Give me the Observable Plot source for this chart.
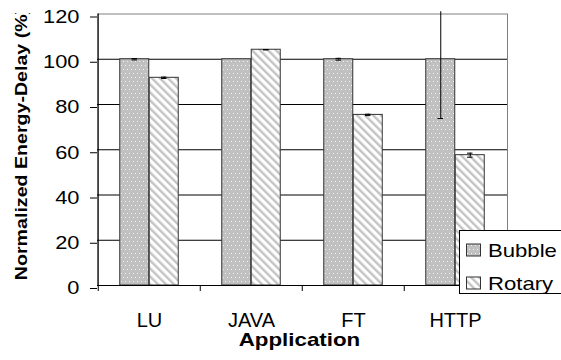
<!DOCTYPE html>
<html><head><meta charset="utf-8">
<script src="https://cdn.jsdelivr.net/npm/d3@7"></script>
<script src="https://cdn.jsdelivr.net/npm/@observablehq/plot@0.6"></script>
<style>
html,body{margin:0;padding:0;background:#fff;}
#chart{position:relative;width:561px;height:360px;overflow:hidden;}
#chart svg{display:block;}
</style></head><body><div id="chart"></div>
<script>
const categories = ["LU", "JAVA", "FT", "HTTP"];
const series = ["Bubble", "Rotary"];
const bubble = [100, 100, 100, 100];
const rotary = [91.8, 104.2, 75.4, 57.6];
const bubbleErr = [0.3, 0, 0.4, 26.2];
const rotaryErr = [0.3, 0.1, 0.3, 0.9];
const yTicks = [0, 20, 40, 60, 80, 100, 120];
const gridTicks = [20, 40, 60, 80, 100];
const yTitle = "Normalized Energy-Delay (%)";
const xTitle = "Application";

const W = 561, H = 360, mL = 97, mR = 54, mT = 13.5, mB = 75;
const bw = (W - mL - mR) / categories.length;
const barW = 29.5;
const outer = (bw - 2 * barW) / 2;
const whiskerTop = 121;
const font = "'Liberation Sans', Arial, sans-serif";

const data = categories.flatMap((c, i) => [
  {cat: c, s: series[0], v: bubble[i], e: bubbleErr[i]},
  {cat: c, s: series[1], v: rotary[i], e: rotaryErr[i]}
]);
const bData = data.filter(d => d.s === series[0]);
const rData = data.filter(d => d.s === series[1]);
const capW = 6;

function errMarks(rows, dx, capLeft) {
  const rs = rows.filter(d => d.e > 0);
  return [
    Plot.ruleX(rs, {x: "cat", y1: d => d.v - d.e, y2: d => Math.min(d.v + d.e, whiskerTop), dx, stroke: "black", strokeWidth: 1}),
    Plot.tickY(rs.filter(d => d.v + d.e <= 120), {x: "cat", y: d => d.v + d.e, insetLeft: capLeft, insetRight: bw - capLeft - capW, stroke: "black"}),
    Plot.tickY(rs, {x: "cat", y: d => d.v - d.e, insetLeft: capLeft, insetRight: bw - capLeft - capW, stroke: "black"})
  ];
}

const chart = Plot.plot({
  width: W, height: H,
  marginLeft: mL, marginRight: mR, marginTop: mT, marginBottom: mB,
  style: {fontFamily: font, background: "white", color: "black", overflow: "visible"},
  x: {domain: categories, padding: 0, label: null},
  y: {domain: [0, 120], label: null},
  marks: [
    Plot.frame({stroke: "#808080"}),
    Plot.ruleY(gridTicks, {stroke: "black", strokeWidth: 1}),
    Plot.barY(bData, {x: "cat", y: "v", fill: "url(#dots)", stroke: "#333", strokeWidth: 1, insetLeft: outer, insetRight: outer + barW}),
    Plot.barY(rData, {x: "cat", y: "v", fill: "url(#stripes)", stroke: "#333", strokeWidth: 1, insetLeft: outer + barW, insetRight: outer}),
    ...errMarks(bData, -barW / 2, outer + barW / 2 - capW / 2),
    ...errMarks(rData, barW / 2, outer + barW + barW / 2 - capW / 2),
    Plot.ruleY([0], {stroke: "black"}),
    Plot.ruleX([categories[0]], {x: d => d, dx: -bw / 2, stroke: "black"}),
    Plot.ruleX(categories, {x: d => d, dx: -bw / 2, y1: 0, y2: 0, insetTop: 6, stroke: "black"}),
    Plot.ruleX([categories[categories.length - 1]], {x: d => d, dx: bw / 2, y1: 0, y2: 0, insetTop: 6, stroke: "black"}),
    Plot.axisY(yTicks, {tickSize: 7, tickPadding: 11, fontSize: 18.5, dy: 3, label: null, stroke: "black"}),
    Plot.axisX({tickSize: 0, tickPadding: 27, fontSize: 20, label: null})
  ]
});
document.getElementById("chart").appendChild(chart);

const svg = d3.select(chart);
const defs = svg.insert("defs", ":first-child");
const dots = defs.append("pattern").attr("id", "dots").attr("patternUnits", "userSpaceOnUse").attr("width", 4).attr("height", 8);
dots.append("rect").attr("width", 4).attr("height", 8).attr("fill", "#c0c0c0");
dots.append("rect").attr("x", 1).attr("y", 1).attr("width", 1).attr("height", 1).attr("fill", "#f2f2f2");
dots.append("rect").attr("x", 3).attr("y", 5).attr("width", 1).attr("height", 1).attr("fill", "#f2f2f2");
const stripes = defs.append("pattern").attr("id", "stripes").attr("patternUnits", "userSpaceOnUse")
  .attr("width", 5.66).attr("height", 5.66).attr("patternTransform", "rotate(-45)");
stripes.append("rect").attr("width", 5.66).attr("height", 5.66).attr("fill", "white");
stripes.append("rect").attr("width", 2.4).attr("height", 5.66).attr("fill", "#c4c4c4");
defs.append("clipPath").attr("id", "titleclip").append("rect").attr("x", 0).attr("y", 13).attr("width", 60).attr("height", 340);

function stretch(sel, k) {
  sel.each(function () {
    const w = this.getComputedTextLength();
    this.setAttribute("textLength", w * k);
    this.setAttribute("lengthAdjust", "spacingAndGlyphs");
  });
}

// y axis tick labels stretched like the reference
stretch(svg.selectAll("g[aria-label='y-axis tick label'] text"), 1.18);

// y axis title (clipped at the top like the reference)
const tg = svg.append("g").attr("clip-path", "url(#titleclip)");
const ytt = tg.append("text").attr("transform", "translate(26.5,144) rotate(-90)")
  .attr("text-anchor", "middle").attr("font-weight", "bold").attr("font-size", 16).attr("font-family", font).text(yTitle);
stretch(ytt, 1.225);

// x axis title
const xt = svg.append("text").attr("x", 299.5).attr("y", 345.5).attr("text-anchor", "middle")
  .attr("font-weight", "bold").attr("font-size", 18.6).attr("font-family", font).text(xTitle);
stretch(xt, 1.2);

// legend
const lg = svg.append("g").attr("font-family", font).attr("text-anchor", "start");
lg.append("rect").attr("x", 459.5).attr("y", 230.5).attr("width", 110).attr("height", 63).attr("fill", "white").attr("stroke", "black");
const fills = ["url(#dots)", "url(#stripes)"];
series.forEach((s, i) => {
  const cy = 250 + i * 33;
  lg.append("rect").attr("x", 466.5).attr("y", cy - 6).attr("width", 14).attr("height", 12).attr("fill", fills[i]).attr("stroke", "#333");
  const t = lg.append("text").attr("x", 488).attr("y", cy + 6.5).attr("font-size", 18.6).attr("text-anchor", "start").text(s);
  stretch(t, 1.19);
});
</script>
</body></html>
